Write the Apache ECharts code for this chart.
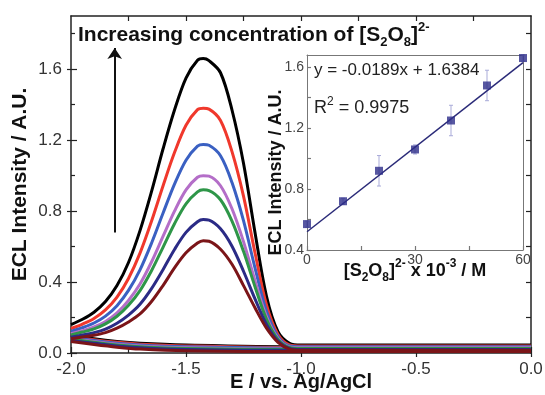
<!DOCTYPE html>
<html>
<head>
<meta charset="utf-8">
<script src="https://cdn.jsdelivr.net/npm/echarts@6/dist/echarts.min.js"></script>
<style>
html, body { margin: 0; padding: 0; background: #fff; }
#chart { width: 545px; height: 395px; }
</style>
</head>
<body>
<div id="chart"></div>
<script>
// potential of the forward scan (V vs. Ag/AgCl)
var scanE = [-2.0, -1.95, -1.9, -1.85, -1.8, -1.75, -1.7, -1.65, -1.6, -1.55, -1.5, -1.45, -1.425, -1.4,
    -1.35, -1.3, -1.25, -1.2, -1.15, -1.1, -1.05, -1.0, -0.5, 0.0];
// ECL intensity on the forward scan (black = highest concentration)
var blackFwd = [0.16, 0.19, 0.23, 0.29, 0.38, 0.51, 0.69, 0.91, 1.15, 1.37, 1.55, 1.65, 1.66, 1.648, 1.58, 1.37, 1.07, 0.68, 0.32, 0.12, 0.055, 0.045, 0.045, 0.045];
var redFwd = [0.138, 0.163, 0.195, 0.243, 0.315, 0.42, 0.563, 0.743, 0.942, 1.13, 1.284, 1.372, 1.38, 1.375, 1.311, 1.135, 0.884, 0.565, 0.271, 0.104, 0.046, 0.04, 0.04, 0.04];
var blueFwd = [0.122, 0.143, 0.169, 0.208, 0.267, 0.353, 0.469, 0.619, 0.788, 0.952, 1.087, 1.166, 1.176, 1.171, 1.112, 0.961, 0.746, 0.48, 0.235, 0.092, 0.039, 0.035, 0.035, 0.035];
var purpleFwd = [0.109, 0.126, 0.147, 0.178, 0.226, 0.296, 0.389, 0.513, 0.657, 0.80, 0.92, 0.991, 1.0, 0.997, 0.943, 0.813, 0.628, 0.408, 0.205, 0.082, 0.034, 0.03, 0.03, 0.03];
var greenFwd = [0.102, 0.118, 0.136, 0.164, 0.207, 0.269, 0.352, 0.464, 0.596, 0.729, 0.841, 0.908, 0.92, 0.916, 0.864, 0.744, 0.573, 0.374, 0.19, 0.077, 0.031, 0.025, 0.025, 0.025];
var navyFwd = [0.089, 0.102, 0.115, 0.135, 0.168, 0.214, 0.275, 0.363, 0.47, 0.584, 0.68, 0.74, 0.752, 0.749, 0.70, 0.602, 0.461, 0.305, 0.161, 0.067, 0.026, 0.02, 0.02, 0.02];
var maroonFwd = [0.08, 0.09, 0.10, 0.115, 0.14, 0.175, 0.22, 0.29, 0.38, 0.48, 0.565, 0.62, 0.633, 0.63, 0.585, 0.50, 0.38, 0.255, 0.14, 0.06, 0.022, 0.015, 0.015, 0.015];

// return scan, 0.0 back to -2.0
var returnE = [0.0, -0.5, -1.0, -1.5, -1.7, -1.8, -1.9, -2.0];
var blackRet = [0.035, 0.035, 0.035, 0.045, 0.055, 0.065, 0.08, 0.10];
var redRet = [0.03, 0.03, 0.03, 0.04, 0.05, 0.06, 0.075, 0.095];
var blueRet = [0.027, 0.027, 0.027, 0.035, 0.045, 0.055, 0.07, 0.09];
var purpleRet = [0.023, 0.023, 0.023, 0.03, 0.04, 0.05, 0.065, 0.085];
var greenRet = [0.02, 0.02, 0.02, 0.025, 0.035, 0.045, 0.06, 0.08];
var navyRet = [0.015, 0.015, 0.015, 0.02, 0.03, 0.04, 0.055, 0.07];
var maroonRet = [0.008, 0.008, 0.008, 0.012, 0.022, 0.033, 0.048, 0.065];

var curveColors = ['#000000', '#f0382c', '#3a60c2', '#b46ec8', '#2e9648', '#2b2b86', '#7b1518'];
var curveFwd = [blackFwd, redFwd, blueFwd, purpleFwd, greenFwd, navyFwd, maroonFwd];
var curveRet = [blackRet, redRet, blueRet, purpleRet, greenRet, navyRet, maroonRet];

// arrow "increasing concentration"
var arrowE = -1.81, arrowFrom = 0.68, arrowTo = 1.72;

// main tick values
var xMajor = [-2.0, -1.5, -1.0, -0.5, 0.0];
var xMinor = [-1.75, -1.25, -0.75, -0.25];
var xTop = [-1.75, -1.5, -1.25, -1.0, -0.75, -0.5, -0.25];
var yMajor = [0.0, 0.4, 0.8, 1.2, 1.6];
var yMinor = [0.2, 0.6, 1.0, 1.4, 1.8];
var yRight = [0.2, 0.4, 0.6, 0.8, 1.0, 1.2, 1.4, 1.6, 1.8];

// inset: calibration
var insetX = [0, 10, 20, 30, 40, 50, 60];
var insetY = [0.57, 0.72, 0.92, 1.06, 1.25, 1.48, 1.66];
var insetErr = [0.02, 0.02, 0.10, 0.03, 0.10, 0.10, 0.02];
var fitX = [0, 60];
var fitY = [0.52, 1.63];
var insetXLabels = [0, 30, 60];
var insetXTicks = [0, 15, 30, 45, 60];
var insetYLabels = [0.4, 0.8, 1.2, 1.6];
var insetYTicks = [0.4, 0.6, 0.8, 1.0, 1.2, 1.4, 1.6];

var FONT = 'Liberation Sans, Arial, sans-serif';
var frame = { color: '#222', width: 1.5 };
var insetFrame = { color: '#777', width: 1 };

function zip(xs, ys) {
    return xs.map(function (x, i) { return [x, ys[i]]; });
}

// axes helper: only a line / ticks / labels where asked
function axis(o) {
    return {
        type: 'value',
        gridIndex: o.grid,
        min: o.min,
        max: o.max,
        position: o.pos,
        axisLine: { show: !!o.line, onZero: false, lineStyle: o.line || {} },
        axisTick: o.ticks ? {
            show: true, inside: o.inside !== false, length: o.len,
            customValues: o.ticks, lineStyle: { color: o.tickColor || '#222', width: 1.2 }
        } : { show: false },
        axisLabel: o.labels ? {
            show: true, customValues: o.labels, formatter: o.fmt,
            fontSize: o.fs, color: o.lc || '#333', fontFamily: FONT, margin: o.margin
        } : { show: false },
        splitLine: { show: false },
        name: o.name,
        nameLocation: 'middle',
        nameGap: o.nameGap,
        nameMoveOverlap: false,
        nameTextStyle: o.nameStyle
    };
}

var fix1 = function (v) { return v.toFixed(1); };
var subsup = {
    b: { fontSize: 18, fontWeight: 'bold', fontFamily: FONT, color: '#111', lineHeight: 26 },
    bs: { fontSize: 12, fontWeight: 'bold', fontFamily: FONT, color: '#111', verticalAlign: 'bottom', lineHeight: 13 },
    bp: { fontSize: 12, fontWeight: 'bold', fontFamily: FONT, color: '#111', verticalAlign: 'top', lineHeight: 13 }
};

var xAxes = [
    axis({ grid: 0, min: -2, max: 0, pos: 'bottom', line: frame, ticks: xMajor, len: 6, labels: xMajor, fmt: fix1, fs: 17, margin: 8,
        name: 'E / vs. Ag/AgCl', nameGap: 19, nameStyle: { fontSize: 20, fontWeight: 'bold', color: '#111', fontFamily: FONT } }),
    axis({ grid: 0, min: -2, max: 0, pos: 'bottom', ticks: xMinor, len: 4 }),
    axis({ grid: 0, min: -2, max: 0, pos: 'bottom', ticks: xMajor, len: 4, inside: false }),
    axis({ grid: 0, min: -2, max: 0, pos: 'top', line: frame, ticks: xTop, len: 5 }),
    axis({ grid: 1, min: 0, max: 60, pos: 'bottom', line: insetFrame, ticks: insetXTicks, len: 4, tickColor: '#777',
        labels: insetXLabels, fmt: function (v) { return String(v); }, fs: 14, lc: '#444', margin: 3,
        name: '{b|[S}{bs|2}{b|O}{bs|8}{b|]}{bp|2-}{b| x 10}{bp|-3}{b| / M}', nameGap: 8,
        nameStyle: { rich: subsup } }),
    axis({ grid: 1, min: 0, max: 60, pos: 'top', line: insetFrame })
];

var yAxes = [
    axis({ grid: 0, min: 0, max: 1.9, pos: 'left', line: frame, ticks: yMajor, len: 6, labels: yMajor, fmt: fix1, fs: 17, margin: 9,
        name: 'ECL Intensity / A.U.', nameGap: 40, nameStyle: { fontSize: 21, fontWeight: 'bold', color: '#111', fontFamily: FONT } }),
    axis({ grid: 0, min: 0, max: 1.9, pos: 'left', ticks: yMinor, len: 4 }),
    axis({ grid: 0, min: 0, max: 1.9, pos: 'left', ticks: yMajor, len: 4, inside: false }),
    axis({ grid: 0, min: 0, max: 1.9, pos: 'right', line: frame, ticks: yRight, len: 5 }),
    axis({ grid: 1, min: 0.4, max: 1.68, pos: 'left', line: insetFrame, ticks: insetYTicks, len: 4, tickColor: '#777',
        labels: insetYLabels, fmt: fix1, fs: 14, lc: '#444', margin: 3,
        name: 'ECL Intensity / A.U.', nameGap: 22,
        nameStyle: { fontSize: 18, fontWeight: 'bold', color: '#111', fontFamily: FONT, padding: [0, 40, 0, 0] } }),
    axis({ grid: 1, min: 0.4, max: 1.68, pos: 'right', line: insetFrame })
];

var series = [];
curveFwd.forEach(function (vals, i) {
    series.push({
        type: 'line', xAxisIndex: 0, yAxisIndex: 0, data: zip(scanE, vals),
        showSymbol: false, smooth: 0.33,
        lineStyle: { color: curveColors[i], width: 3, join: 'round' }, z: 2 + i
    });
    series.push({
        type: 'line', xAxisIndex: 0, yAxisIndex: 0, data: zip(returnE, curveRet[i]),
        showSymbol: false, smooth: 0.33,
        lineStyle: { color: curveColors[i], width: 3, join: 'round' }, z: 2 + i
    });
});

// arrow
series[0].markLine = {
    silent: true, animation: false,
    symbol: ['none', 'arrow'], symbolSize: 11,
    label: { show: false },
    lineStyle: { color: '#111', width: 2, type: 'solid' },
    data: [[{ coord: [arrowE, arrowFrom] }, { coord: [arrowE, arrowTo] }]]
};

// inset: error bars
series.push({
    type: 'custom', xAxisIndex: 4, yAxisIndex: 4,
    data: insetX.map(function (x, i) { return [x, insetY[i], insetErr[i]]; }),
    encode: { x: 0, y: 1 },
    renderItem: function (params, api) {
        var x = api.value(0), y = api.value(1), e = api.value(2);
        var top = api.coord([x, y + e]), bot = api.coord([x, y - e]);
        var st = { stroke: '#a9abd9', lineWidth: 1 };
        return {
            type: 'group',
            children: [
                { type: 'line', shape: { x1: top[0], y1: top[1], x2: bot[0], y2: bot[1] }, style: st },
                { type: 'line', shape: { x1: top[0] - 2, y1: top[1], x2: top[0] + 2, y2: top[1] }, style: st },
                { type: 'line', shape: { x1: bot[0] - 2, y1: bot[1], x2: bot[0] + 2, y2: bot[1] }, style: st }
            ]
        };
    },
    z: 3
});
// inset: fit line
series.push({
    type: 'line', xAxisIndex: 4, yAxisIndex: 4, data: zip(fitX, fitY),
    showSymbol: false, lineStyle: { color: '#2a2a78', width: 1.5 }, z: 4
});
// inset: points
series.push({
    type: 'scatter', xAxisIndex: 4, yAxisIndex: 4, data: zip(insetX, insetY),
    symbol: 'rect', symbolSize: 8, itemStyle: { color: '#2d2d8a' }, z: 5
});

var chart = echarts.init(document.getElementById('chart'), null, { renderer: 'canvas' });
chart.setOption({
    animation: false,
    backgroundColor: '#fff',
    grid: [
        { left: 71, right: 14, top: 16, bottom: 42, outerBoundsMode: 'none' },
        { left: 307, right: 22, top: 55, bottom: 145, outerBoundsMode: 'none' }
    ],
    xAxis: xAxes,
    yAxis: yAxes,
    series: series,
    graphic: [
        {
            type: 'text', left: 78, top: 21,
            style: {
                text: '{b|Increasing concentration of [S}{bs|2}{b|O}{bs|8}{b|]}{bp|2-}',
                rich: {
                    b: { fontSize: 21, fontWeight: 'bold', fontFamily: FONT, fill: '#111', lineHeight: 28 },
                    bs: { fontSize: 13, fontWeight: 'bold', fontFamily: FONT, fill: '#111', verticalAlign: 'bottom', lineHeight: 14 },
                    bp: { fontSize: 13, fontWeight: 'bold', fontFamily: FONT, fill: '#111', verticalAlign: 'top', lineHeight: 14 }
                }
            }
        },
        {
            type: 'text', left: 314, top: 62,
            style: { text: 'y = -0.0189x + 1.6384', font: '17px ' + FONT, fill: '#222' }
        },
        {
            type: 'text', left: 314, top: 96,
            style: {
                text: '{n|R}{p|2}{n| = 0.9975}',
                rich: {
                    n: { fontSize: 18, fontFamily: FONT, fill: '#222', lineHeight: 24 },
                    p: { fontSize: 12, fontFamily: FONT, fill: '#222', verticalAlign: 'top', lineHeight: 12 }
                }
            }
        }
    ]
});
</script>
</body>
</html>
